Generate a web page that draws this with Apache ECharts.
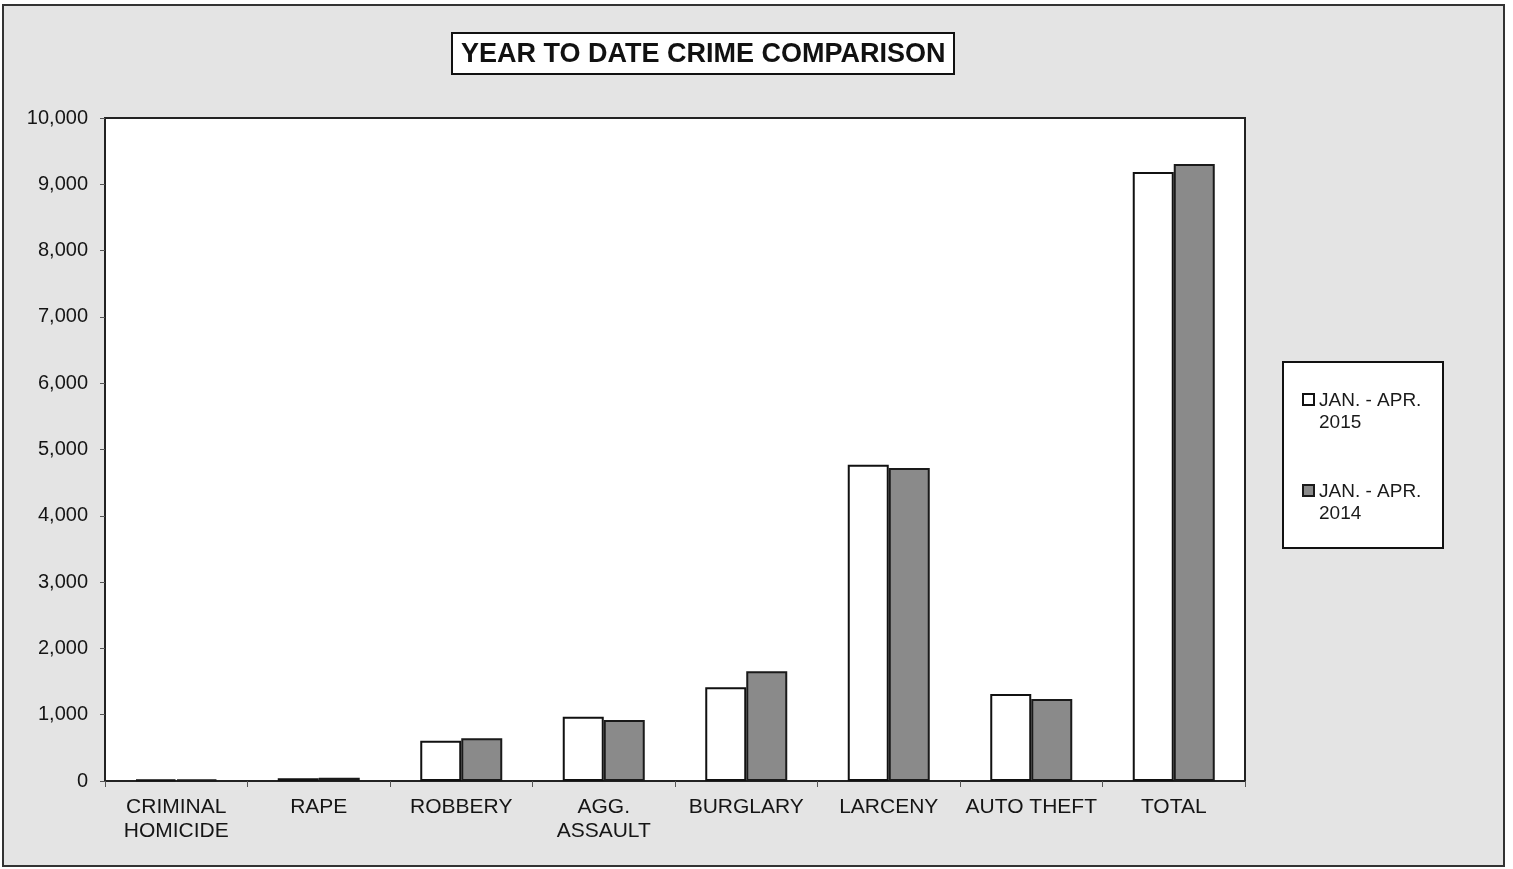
<!DOCTYPE html>
<html>
<head>
<meta charset="utf-8">
<script src="https://cdn.jsdelivr.net/npm/echarts@6/dist/echarts.min.js"></script>
<style>
html,body{margin:0;padding:0;background:#fff;}
#c{width:1513px;height:869px;}
</style>
</head>
<body>
<div id="c"></div>
<script>
const categories = ['CRIMINAL\nHOMICIDE','RAPE','ROBBERY','AGG.\nASSAULT','BURGLARY','LARCENY','AUTO THEFT','TOTAL'];
const seriesNames = ['JAN. - APR.\n2015','JAN. - APR.\n2014'];
const values2015 = [22, 42, 608, 970, 1413, 4770, 1312, 9184];
const values2014 = [24, 48, 644, 920, 1654, 4720, 1237, 9305];
const yTicks = {min: 0, max: 10000, interval: 1000};

const chart = echarts.init(document.getElementById('c'));
const font = 'Liberation Sans, Arial, sans-serif';
chart.setOption({
  animation: false,
  backgroundColor: '#fff',
  graphic: [
    {type:'rect', z:-10, shape:{x:3,y:5,width:1501,height:861},
     style:{fill:'#e4e4e4', stroke:'#333', lineWidth:2}},
    {type:'rect', z:-5, shape:{x:1283,y:362,width:160,height:186},
     style:{fill:'#fff', stroke:'#111', lineWidth:2}}
  ],
  title: {
    text: 'YEAR TO DATE CRIME COMPARISON',
    top: 33,
    left: 452,
    textStyle: {fontFamily: font, fontSize: 27, fontWeight: 'bold', color: '#111'},
    backgroundColor: '#fff', borderColor: '#111', borderWidth: 2,
    padding: [8, 9, 6, 9]
  },
  legend: {
    orient: 'vertical', left: 1297, top: 385,
    itemWidth: 11, itemHeight: 36, itemGap: 47,
    icon: 'path://M0,0L11,0L11,11L0,11Z M0,36',
    textStyle: {fontFamily: font, fontSize: 19, color: '#1a1a1a', lineHeight: 22},
    data: seriesNames
  },
  grid: {
    left: 105, top: 118, width: 1140, height: 663,
    show: true, backgroundColor: '#fff', borderColor: '#222', borderWidth: 2,
    containLabel: false
  },
  xAxis: {
    type: 'category', data: categories,
    axisLine: {lineStyle: {color: '#222', width: 2}},
    axisTick: {show: true, length: 6, lineStyle: {color: '#555'}},
    axisLabel: {fontFamily: font, fontSize: 21, color: '#151515', margin: 14, lineHeight: 24, interval: 0},
    splitLine: {show: false}
  },
  yAxis: {
    type: 'value', min: yTicks.min, max: yTicks.max, interval: yTicks.interval,
    axisLine: {show: true, lineStyle: {color: '#222', width: 2}},
    axisTick: {show: true, length: 5, lineStyle: {color: '#555'}},
    axisLabel: {fontFamily: font, fontSize: 20, color: '#151515', margin: 17,
      formatter: v => v.toLocaleString('en-US')},
    splitLine: {show: false}
  },
  series: [
    {name: seriesNames[0], type: 'bar', data: values2015, barWidth: 41, barGap: '0%',
     itemStyle: {color: '#fff', borderColor: '#111', borderWidth: 2}},
    {name: seriesNames[1], type: 'bar', data: values2014, barWidth: 41,
     itemStyle: {color: '#8a8a8a', borderColor: '#1a1a1a', borderWidth: 2}}
  ]
});
</script>
</body>
</html>
